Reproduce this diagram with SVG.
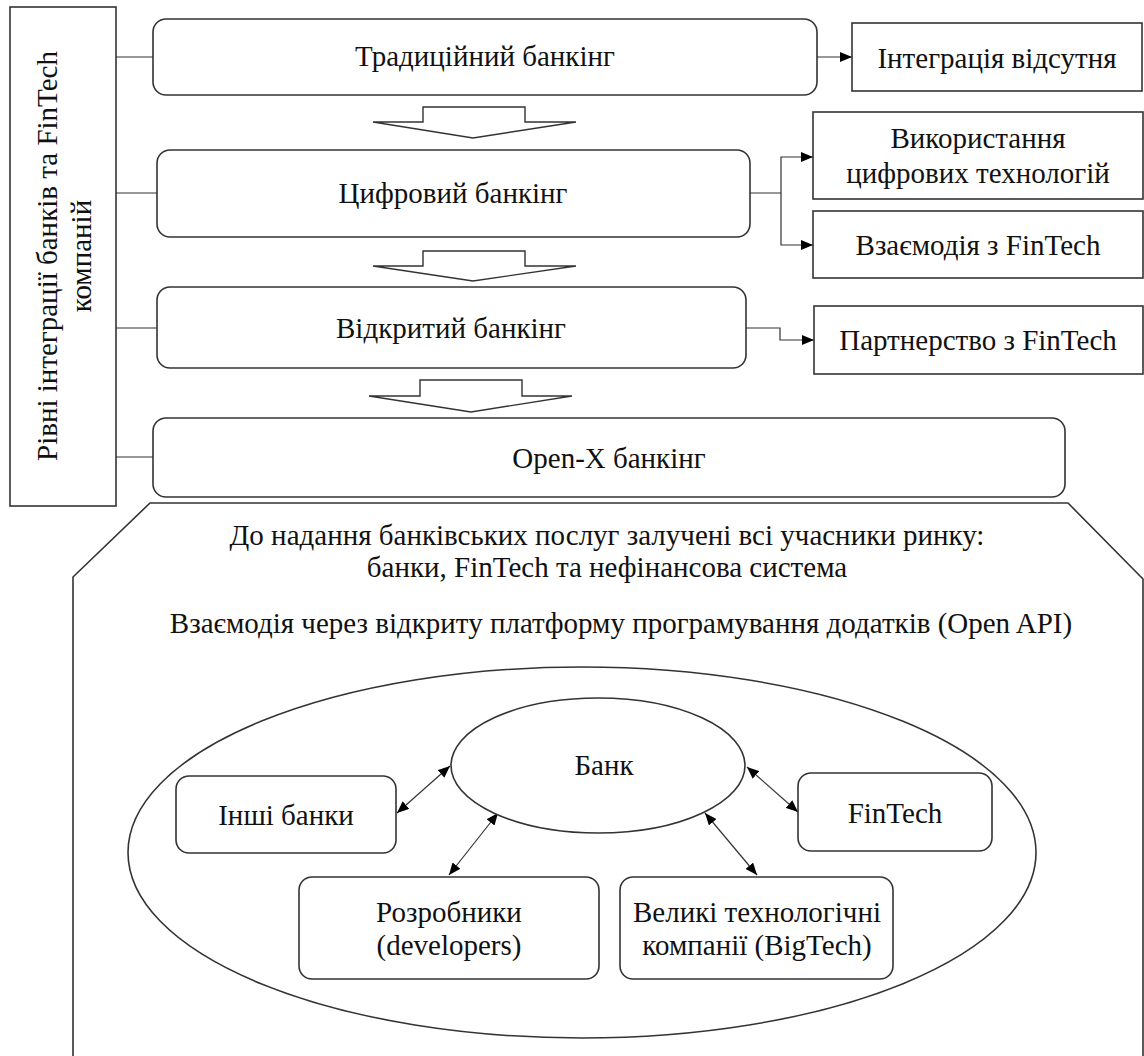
<svg xmlns="http://www.w3.org/2000/svg" width="1144" height="1056" viewBox="0 0 1144 1056">
<style>
text{font-family:"Liberation Serif","Times New Roman",serif;font-size:29px;fill:#111;text-anchor:middle}
.box{fill:#fff;stroke:#333;stroke-width:1.6}
.ln{fill:none;stroke:#333;stroke-width:1.2}
.blk{fill:#fff;stroke:#333;stroke-width:1.4}
</style>
<defs>
<marker id="ah" viewBox="0 0 12 10" refX="12" refY="5" markerWidth="12" markerHeight="10" markerUnits="userSpaceOnUse" orient="auto"><path d="M0,0L12,5L0,10Z" fill="#000"/></marker>
<marker id="ah2" viewBox="0 0 12 10" refX="12" refY="5" markerWidth="12" markerHeight="10" markerUnits="userSpaceOnUse" orient="auto-start-reverse"><path d="M0,0L12,5L0,10Z" fill="#000"/></marker>
</defs>
<rect width="1144" height="1056" fill="#fff"/>
<g id="octagon">
<polygon class="box" points="150,503 1068,503 1143,579 1143,1070 73,1070 73,577"/>
<text x="607" y="545">До надання банківських послуг залучені всі учасники ринку:</text>
<text x="607" y="577">банки, FinTech та нефінансова система</text>
<text x="621" y="633">Взаємодія через відкриту платформу програмування додатків (Open API)</text>
</g>
<g id="outer-ellipse"><ellipse class="box" cx="582" cy="852.5" rx="454" ry="185.5"/></g>
<g id="levels-box">
<rect class="box" x="10" y="7" width="106" height="499"/>
<text transform="translate(57,256) rotate(-90)">Рівні інтеграції банків та FinTech</text>
<text transform="translate(91,256) rotate(-90)">компаній</text>
</g>
<g id="connectors">
<path class="ln" d="M116,57H153M116,193H157M116,328H157M116,457H153"/>
<path class="ln" d="M817,57H852" marker-end="url(#ah)"/>
<path class="ln" d="M750,193H781V157H813" marker-end="url(#ah)"/>
<path class="ln" d="M781,193V245H813" marker-end="url(#ah)"/>
<path class="ln" d="M746,328H780V340H814" marker-end="url(#ah)"/>
<path class="ln" d="M397,813L450,766" marker-start="url(#ah2)" marker-end="url(#ah2)"/>
<path class="ln" d="M449,875L498,813" marker-start="url(#ah2)" marker-end="url(#ah2)"/>
<path class="ln" d="M747,767L798,812" marker-start="url(#ah2)" marker-end="url(#ah2)"/>
<path class="ln" d="M705,813L757,875" marker-start="url(#ah2)" marker-end="url(#ah2)"/>
<polygon class="blk" points="423,107 525,107 525,122 576,122 473,138 373,122 423,122"/>
<polygon class="blk" points="423,251 525,251 525,266 576,266 473,281 373,266 423,266"/>
<polygon class="blk" points="420,380 522,380 522,396 572,396 471,412 369,396 420,396"/>
</g>
<g id="traditional"><rect class="box" x="153" y="19" width="664" height="76" rx="13"/><text x="485" y="66">Традиційний банкінг</text></g>
<g id="digital"><rect class="box" x="157" y="150" width="593" height="87" rx="13"/><text x="453" y="203">Цифровий банкінг</text></g>
<g id="open"><rect class="box" x="157" y="287" width="589" height="81" rx="13"/><text x="451" y="338">Відкритий банкінг</text></g>
<g id="openx"><rect class="box" x="153" y="418" width="912" height="79" rx="13"/><text x="609" y="468">Open-X банкінг</text></g>
<g id="no-integration"><rect class="box" x="852" y="23" width="290" height="68"/><text x="997" y="68">Інтеграція відсутня</text></g>
<g id="digital-tech"><rect class="box" x="813" y="112" width="330" height="87"/><text x="978" y="148">Використання</text><text x="978" y="183">цифрових технологій</text></g>
<g id="interaction"><rect class="box" x="813" y="211" width="330" height="67"/><text x="978" y="255">Взаємодія з FinTech</text></g>
<g id="partnership"><rect class="box" x="814" y="306" width="329" height="68"/><text x="978" y="350">Партнерство з FinTech</text></g>
<g id="bank"><ellipse class="box" cx="598" cy="765.5" rx="147" ry="67.5"/><text x="604" y="775">Банк</text></g>
<g id="other-banks"><rect class="box" x="176" y="776" width="220" height="77" rx="13"/><text x="286" y="825">Інші банки</text></g>
<g id="developers"><rect class="box" x="299" y="877" width="300" height="102" rx="13"/><text x="449" y="922">Розробники</text><text x="449" y="955">(developers)</text></g>
<g id="bigtech"><rect class="box" x="620" y="877" width="273" height="102" rx="13"/><text x="757" y="922">Великі технологічні</text><text x="757" y="955">компанії (BigTech)</text></g>
<g id="fintech"><rect class="box" x="798" y="773" width="194" height="78" rx="13"/><text x="895" y="823">FinTech</text></g>
</svg>
